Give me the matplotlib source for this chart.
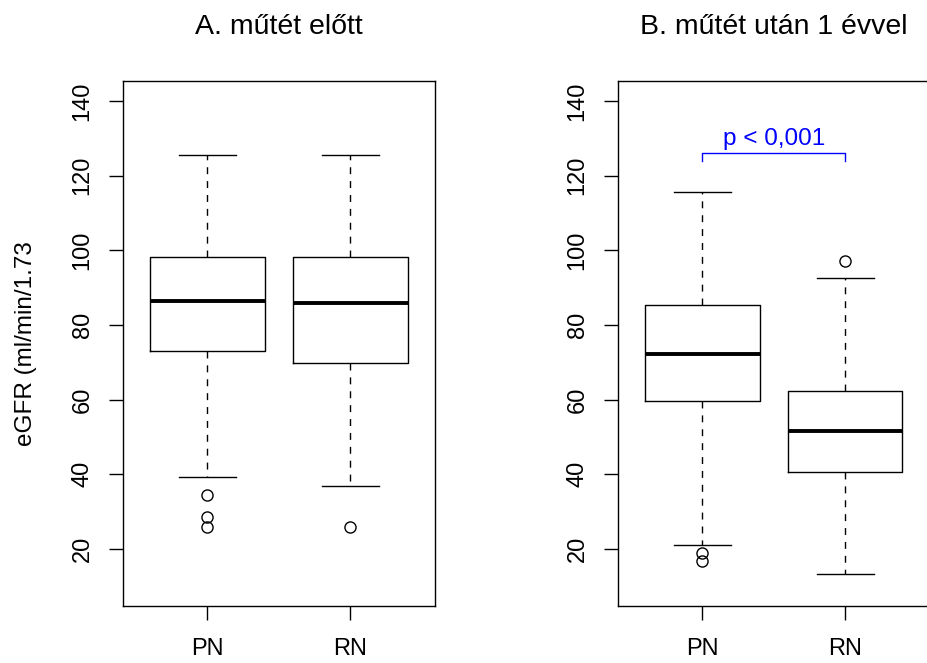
import matplotlib
matplotlib.use("Agg")
import matplotlib.pyplot as plt

plt.rcParams['font.family'] = ['Liberation Sans', 'DejaVu Sans']

# eGFR summary values (whisker low, Q1, median, Q3, whisker high)
groups = ['PN', 'RN']
titles = ['A. műtét előtt', 'B. műtét után 1 évvel']

before_whislo = [39.4, 36.8]
before_q1 = [73.0, 69.9]
before_med = [86.3, 85.9]
before_q3 = [98.3, 98.3]
before_whishi = [125.5, 125.5]
before_fliers = [[34.4, 28.5, 25.8], [25.8]]

after_whislo = [21.1, 13.4]
after_q1 = [59.5, 40.5]
after_med = [72.3, 51.7]
after_q3 = [85.4, 62.3]
after_whishi = [115.6, 92.6]
after_fliers = [[18.9, 16.7], [97.0]]

y_ticks = [20, 40, 60, 80, 100, 120, 140]
p_text = 'p < 0,001'
ylabel = 'eGFR (ml/min/1.73'


def make_stats(whislo, q1, med, q3, whishi, fliers):
    stats = []
    for i in range(len(groups)):
        stats.append({
            'whislo': whislo[i], 'q1': q1[i], 'med': med[i],
            'q3': q3[i], 'whishi': whishi[i], 'fliers': fliers[i],
        })
    return stats


def draw_panel(ax, stats, title):
    ax.bxp(stats, positions=[1, 2], widths=0.8, capwidths=0.4,
           boxprops=dict(color='black', linewidth=1.0),
           medianprops=dict(color='black', linewidth=2.8, solid_capstyle='butt'),
           whiskerprops=dict(color='black', linewidth=1.0, linestyle=(0, (5, 5))),
           capprops=dict(color='black', linewidth=1.0),
           flierprops=dict(marker='o', markerfacecolor='none', markeredgecolor='black',
                           markersize=8, markeredgewidth=1.0, linestyle='none'))
    ax.set_xlim(0.408, 2.592)
    ax.set_ylim(4.8, 145.2)
    ax.set_xticks([1, 2])
    ax.set_xticklabels(groups)
    ax.set_yticks(y_ticks)
    ax.tick_params(axis='both', direction='out', length=10, width=1.0, labelsize=17)
    ax.tick_params(axis='x', pad=13)
    ax.tick_params(axis='y', pad=11)
    plt.setp(ax.get_yticklabels(), rotation=90, va='center')
    for s in ax.spines.values():
        s.set_linewidth(1.0)
    ax.set_title(title, fontsize=20.5, pad=34)


fig = plt.figure(figsize=(9.28, 6.63), dpi=100)
ax1 = fig.add_axes([0.1322, 0.0864, 0.3365, 0.7908])
ax2 = fig.add_axes([0.6656, 0.0864, 0.3365, 0.7908])

draw_panel(ax1, make_stats(before_whislo, before_q1, before_med, before_q3,
                           before_whishi, before_fliers), titles[0])
draw_panel(ax2, make_stats(after_whislo, after_q1, after_med, after_q3,
                           after_whishi, after_fliers), titles[1])

ax1.set_ylabel(ylabel, fontsize=17.5)
ax1.yaxis.set_label_coords(-0.274, 0.5)

# significance bracket on the after-surgery panel
ax2.plot([1, 1, 2, 2], [123.9, 126.0, 126.0, 123.9], color='#0000FF', linewidth=1.0)
ax2.text(1.5, 128.2, p_text, color='#0000FF', fontsize=17.5, ha='center', va='baseline')

fig.savefig('out.png', dpi=100)
